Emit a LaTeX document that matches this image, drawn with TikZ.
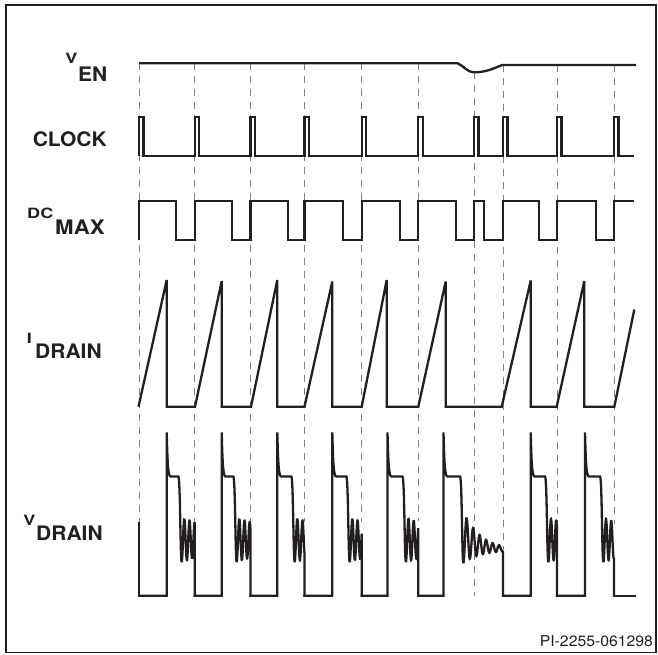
\documentclass[tikz,border=0pt]{standalone}
\usepackage{fontspec}
\setmainfont{TeX Gyre Heros}
\newfontfamily\labfont[FakeStretch=1.05]{TeX Gyre Heros}
\definecolor{ink}{HTML}{231F20}
\definecolor{dashgray}{HTML}{808080}
\newcommand\subsize{\fontsize{20}{24}\selectfont}
\begin{document}
\begin{tikzpicture}[x=1pt,y=-1pt,
  wave/.style={draw=ink,line width=2.3pt,line join=miter,miter limit=2},
  gridline/.style={draw=dashgray,line width=1pt,dash pattern=on 6.5pt off 6.5pt},
  labsub/.style={font=\labfont\bfseries\subsize,text=ink,inner sep=0pt},
  labmain/.style={font=\labfont\bfseries\subsize,text=ink,inner sep=0pt,xscale=0.86,yscale=0.71}]
\useasboundingbox (0,0) rectangle (658,654);
\draw[draw=ink,line width=1.5pt] (6,5) rectangle (656,652.5);

% labels
\node[labmain,anchor=base east] (venm) at (77.5,63) {V};
\node[labsub,anchor=base west] (vens) at (78,81) {EN};
\node[labsub,anchor=base east] (clk) at (107,146) {CLOCK};
\node[labmain,anchor=base east] (dcm) at (53.5,218.3) {DC};
\node[labsub,anchor=base west,xscale=1.06] (dcs) at (55,234) {MAX};
\node[labmain,anchor=base east] (idm) at (32,343) {I};
\node[labsub,anchor=base west] (ids) at (35,358.3) {DRAIN};
\node[labmain,anchor=base east] (vdm) at (35.5,525) {V};
\node[labsub,anchor=base west] (vds) at (36,540.7) {DRAIN};
\node[font=\labfont\fontsize{15}{18}\selectfont,text=ink,inner sep=0pt,anchor=base east] (code) at (653,646.7) {PI-2255-061298};

% dashed clock lines
\foreach \xx/\ya/\yb in {139/63.3/523, 194.7/63.3/522, 250.5/63.3/522, 304.5/63.3/522, 361.7/63.3/522, 418.2/63.3/521, 474/72.3/595.7, 503/65/550, 557/65/522, 614/65/524}
  \draw[gridline] (\xx,\ya) -- (\xx,\yb);

% V_EN
\draw[wave] (139,63.3) -- (457.7,63.3) .. controls (464,66) and (467,72.3) .. (474,72.3)
  .. controls (487,72.3) and (494,68) .. (502.3,65) -- (636,65);

% CLOCK
\draw[wave] (139,156) -- (139,117) -- (143.5,117) -- (143.5,156)
  foreach \c in {194.7,250.5,304.5,361.7,418.2,474,503,557,614}
  { -- (\c,156) -- (\c,117) -- (\c+4.5,117) -- (\c+4.5,156) } -- (634,156);

% DC_MAX
\draw[wave] (139,240) -- (139,201) -- (176,201) -- (176,240)
  foreach \r/\f in {194.7/232.3, 250.5/288.3, 304.5/343.3, 361.7/400, 418.2/456, 474/484.3, 503/539.3, 557/595.7}
  { -- (\r,240) -- (\r,201) -- (\f,201) -- (\f,240) } -- (614,240) -- (614,201) -- (633.5,201);

% I_DRAIN
\draw[wave] (138.5,406.7) -- (166.7,280) -- (166.7,406.7) -- (195,406.7) -- (221.7,281) -- (221.7,406.7)
  -- (251,406.7) -- (277.3,280) -- (277.3,406.7) -- (304.5,406.7) -- (332.3,281.5) -- (332.3,406.7)
  -- (361.7,406.7) -- (386.7,280) -- (386.7,406.7) -- (418.3,406.7) -- (445.7,281.5) -- (445.7,406.7)
  -- (501.7,406.7) -- (530.7,280.5) -- (530.7,406.7) -- (556.7,406.7) -- (584.3,281) -- (584.3,406.7)
  -- (614.3,406.7) -- (634.3,309.5);

% V_DRAIN
\draw[wave,line cap=rect] (139,523) -- (139,595.7);
\foreach \B/\R/\F/\Q in {139/166.7/194.7/11.6, 194.7/221.7/250.5/11.6, 250.5/277.3/304.5/14, 304.5/332.3/361.7/14, 361.7/387.5/418.2/15, 503/530.7/557/14.3, 557/585/614/15}{
  \pgfmathsetmacro\P{\R+\Q}
  \pgfmathsetmacro\T{\P+3.4}
  \draw[wave,line cap=rect] (\B,595.7) -- (\R,595.7) -- (\R,432.3)
    .. controls (\R+0.8,465) and (\R+1.5,476.5) .. (\R+4,476.5) -- (\P,476.5)
    .. controls (\P+2,476.5) and (\P+2,562) .. (\T,562)
    -- plot[domain=\T:\F,samples=80,smooth] (\x,{540+22*exp(-(\x-\T)/60)*cos(360*(\x-\T)/5.2)})
    -- (\F,595.7);
}
\draw[wave,line cap=rect] (418.2,595.7) -- (443.5,595.7) -- (443.5,432.3)
  .. controls (444.3,465) and (445,476.5) .. (447.5,476.5) -- (460,476.5)
  .. controls (462,476.5) and (462,563) .. (463.4,563)
  -- plot[domain=463.4:503,samples=150,smooth] (\x,{550-13*exp(-(\x-463.4)/17)+26*exp(-(\x-463.4)/17)*cos(360*(\x-463.4)/6.5)})
  -- (503,595.7);
\draw[wave,line cap=rect] (614,595.7) -- (635,595.7);
\end{tikzpicture}
\end{document}
